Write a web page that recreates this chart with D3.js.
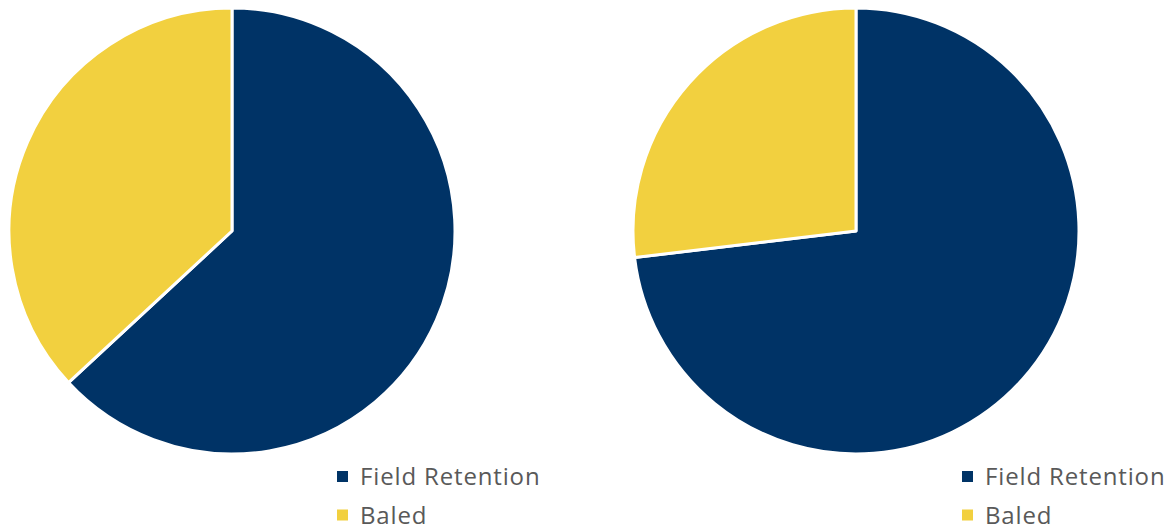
<!DOCTYPE html>
<html>
<head>
<meta charset="utf-8">
<script src="https://cdn.jsdelivr.net/npm/d3@7"></script>
<style>
  body { margin: 0; background: #fff; }
  svg { display: block; }
</style>
</head>
<body>
<div id="chart"></div>
<script>
const w = 1172, h = 529;
const categories = ['Field Retention', 'Baled'];
const colors = ['#003366', '#F2D03F'];
// share of residue, left and right pie (percent)
const leftValues = [63.1, 36.9];
const rightValues = [73.1, 26.9];

const svg = d3.select('#chart')
  .append('svg')
  .attr('width', w)
  .attr('height', h);

const color = d3.scaleOrdinal().domain(categories).range(colors);

const pie = d3.pie().sort(null).value(d => d.value);
const arc = d3.arc().innerRadius(0).outerRadius(223);

function drawPie(values, cx, legendX) {
  const data = categories.map((c, i) => ({ name: c, value: values[i] }));
  const g = svg.append('g').attr('transform', 'translate(' + cx + ',231)');
  g.selectAll('path')
    .data(pie(data))
    .enter()
    .append('path')
    .attr('d', arc)
    .attr('fill', d => color(d.data.name))
    .attr('stroke', '#fff')
    .attr('stroke-width', 3)
    .attr('stroke-linejoin', 'round');

  const leg = svg.append('g').attr('transform', 'translate(' + legendX + ',0)');
  const item = leg.selectAll('g')
    .data(categories)
    .enter()
    .append('g')
    .attr('transform', (d, i) => 'translate(0,' + (485 + 38.5 * i) + ')');
  item.append('rect')
    .attr('x', 0).attr('y', -14)
    .attr('width', 11).attr('height', 11)
    .attr('fill', d => color(d));
  item.append('text')
    .attr('x', 23)
    .attr('y', 0)
    .attr('font-family', 'Open Sans, sans-serif')
    .attr('font-size', 24)
    .attr('letter-spacing', 0.85)
    .attr('fill', '#595959')
    .text(d => d);
}

drawPie(leftValues, 232, 337);
drawPie(rightValues, 856, 962);
</script>
</body>
</html>
